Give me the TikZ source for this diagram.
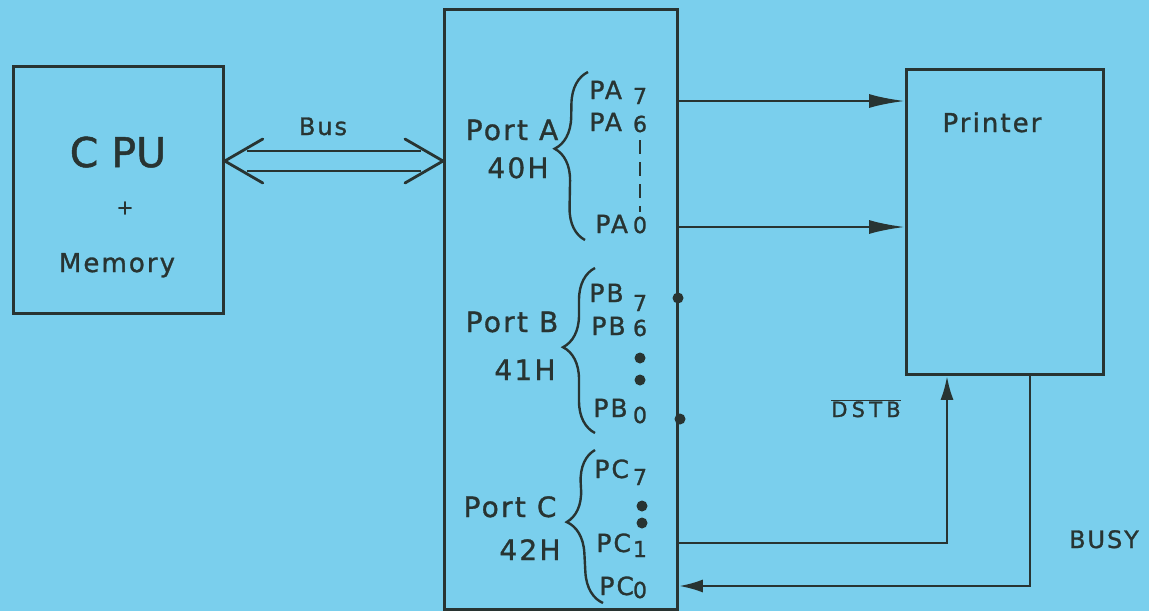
\documentclass[tikz,border=0pt]{standalone}
\usepackage{fontspec}
\setmainfont{DejaVu Sans}[FakeBold=1.2]
\newfontfamily\hand{DejaVu Sans}[LetterSpace=8,FakeBold=1.2]
\newfontfamily\wide{DejaVu Sans}[LetterSpace=20,FakeBold=1.2]
\usetikzlibrary{arrows.meta,decorations.pathreplacing}
\definecolor{bg}{RGB}{122,207,237}
\definecolor{ink}{RGB}{40,52,50}
\begin{document}
\begin{tikzpicture}[x=1pt,y=-1pt,line width=2.8pt,
  blk/.style={draw=ink, line width=2.8pt, inner sep=0pt},
  txt/.style={text=ink, inner sep=0pt},
  portlbl/.style={txt, anchor=base, font=\hand\fontsize{28}{30}\selectfont},
  pin/.style={txt, anchor=base west, font=\hand\fontsize{25}{28}\selectfont},
  sub/.style={txt, anchor=base, font=\fontsize{22}{24}\selectfont},
  brc/.style={draw=ink, line width=2.4pt, decorate, decoration={brace, amplitude=32pt, aspect=#1}},
  sig/.style={draw=ink, -{Latex[length=36pt,width=14pt]}},
  sigs/.style={draw=ink, -{Latex[length=24pt,width=13pt]}}
]
\useasboundingbox (0,0) rectangle (1149,611);
\fill[bg] (0,0) rectangle (1149,611);

% blocks
\node[blk, minimum width=210pt, minimum height=247pt, anchor=north west] (cpu) at (12,65) {};
\node[blk, minimum width=233pt, minimum height=600pt, anchor=north west] (port) at (443,8) {};
\node[blk, minimum width=197pt, minimum height=305pt, anchor=north west] (printer) at (905,68) {};

% CPU text
\node[txt, anchor=base, font=\fontsize{41}{44}\selectfont] (cpulbl) at (118,167) {C PU};
\node[txt, font=\fontsize{20}{22}\selectfont] (plus) at (125,208) {+};
\node[txt, anchor=base, font=\hand\fontsize{26}{28}\selectfont] (mem) at (117,272) {Memory};

% Bus
\coordinate (busL) at (cpu.east |- 0,161);
\coordinate (busR) at (port.west |- 0,161);
\draw[ink, line cap=round, line join=round] ([shift={(38,-22)}]busL) -- (busL) -- ([shift={(38,22)}]busL);
\draw[ink, line cap=round, line join=round] ([shift={(-38,-22)}]busR) -- (busR) -- ([shift={(-38,22)}]busR);
\draw[ink] ([shift={(22,-10)}]busL) -- ([shift={(-22,-10)}]busR);
\draw[ink] ([shift={(22,10)}]busL) -- ([shift={(-22,10)}]busR);
\node[txt, anchor=base, font=\hand\fontsize{24}{26}\selectfont] (buslbl) at (323,135) {Bus};

% Port A
\node[portlbl] (portA) at (512,140) {Port A};
\node[portlbl] (addrA) at (518,178) {40H};
\draw[brc=0.54] (585,240) -- (588,72);
\node[pin] (pa7) at (588,99) {PA};
\node[sub] (pa7s) at (640,104) {7};
\node[pin] (pa6) at (588,131) {PA};
\node[sub] (pa6s) at (640,132) {6};
\node[pin] (pa0) at (594,233) {PA};
\node[sub] (pa0s) at (640,233) {0};
\draw[ink, line width=2.4pt, dash pattern=on 14pt off 8pt] (640,140) -- (640,212);

% Port B
\node[portlbl] (portB) at (512,332) {Port B};
\node[portlbl] (addrB) at (525,380) {41H};
\draw[brc=0.52] (595,433) -- (595,268);
\node[pin] (pb7) at (588,302) {PB};
\node[sub] (pb7s) at (640,311) {7};
\node[pin] (pb6) at (590,335) {PB};
\node[sub] (pb6s) at (640,336) {6};
\node[pin] (pb0) at (592,417) {PB};
\node[sub] (pb0s) at (640,423) {0};
\fill[ink] (640,358) circle (5.5);
\fill[ink] (640,380) circle (5.5);
\fill[ink] (678,298) circle (5.5);
\fill[ink] (680,419) circle (5.5);

% Port C
\node[portlbl] (portC) at (510,517) {Port C};
\node[portlbl] (addrC) at (530,560) {42H};
\draw[brc=0.54] (603,603) -- (595,450);
\node[pin] (pc7) at (593,478) {PC};
\node[sub] (pc7s) at (640,485) {7};
\node[pin] (pc1) at (595,552) {PC};
\node[sub] (pc1s) at (640,557) {1};
\node[pin] (pc0) at (598,595) {PC};
\node[sub] (pc0s) at (640,598) {0};
\fill[ink] (642,506) circle (5.5);
\fill[ink] (642,523) circle (5.5);

% Printer
\node[txt, anchor=base, font=\hand\fontsize{26}{28}\selectfont] (prlbl) at (992,132) {Printer};

% signals
\draw[sig] (port.east |- 0,101) -- (printer.west |- 0,101);
\draw[sig] (port.east |- 0,227) -- (printer.west |- 0,227);
\draw[sigs] (port.east |- 0,543) -| (printer.south -| 947,0);
\draw[sigs] (printer.south -| 1030,0) |- (port.east |- 0,586);

\node[txt, anchor=base, font=\wide\fontsize{21}{24}\selectfont] (dstb) at (866,417) {$\overline{\mbox{DSTB}}$};
\node[txt, anchor=base, font=\hand\fontsize{24}{26}\selectfont] (busy) at (1104,548) {BUSY};
\end{tikzpicture}
\end{document}
